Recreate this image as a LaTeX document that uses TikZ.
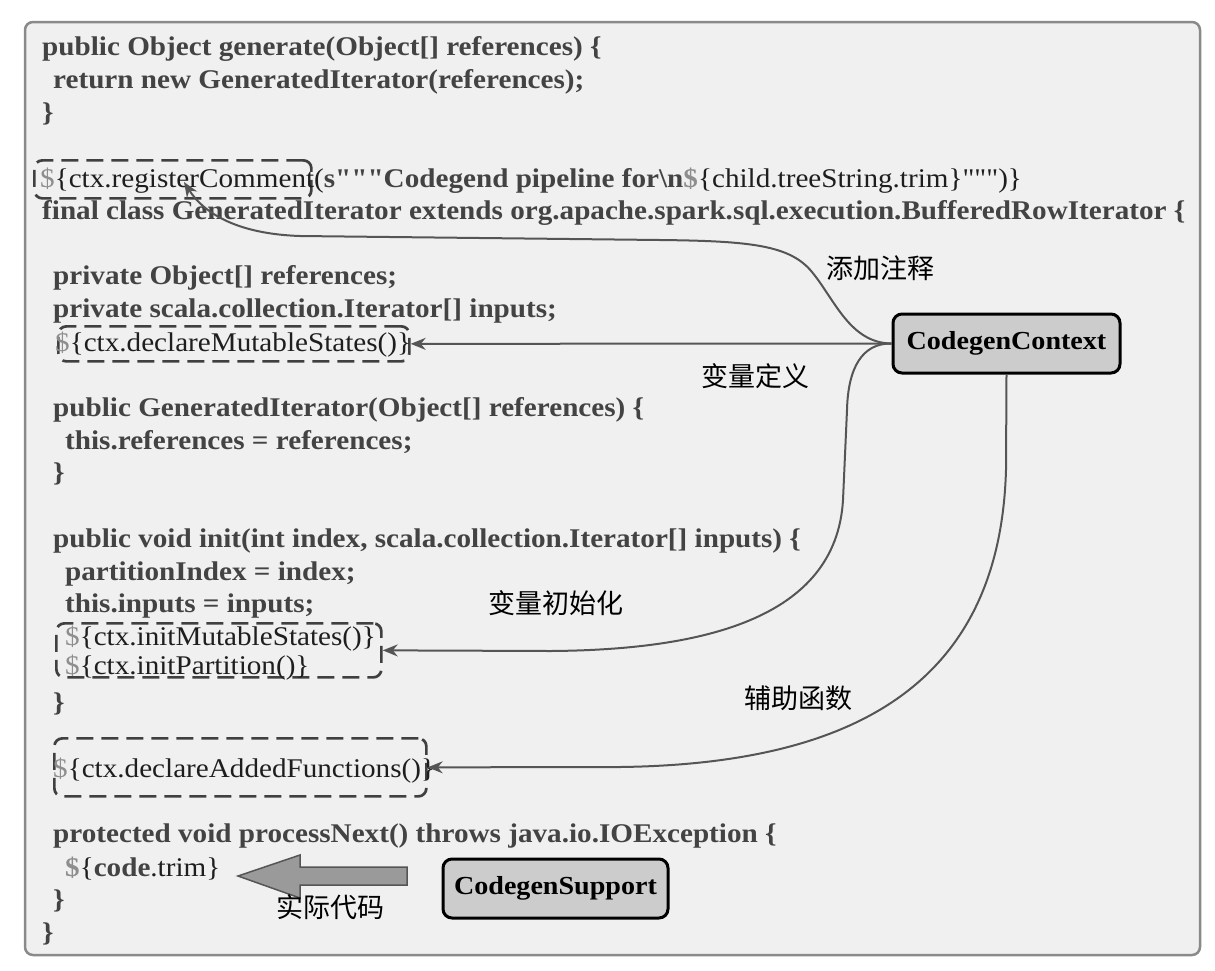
\documentclass[tikz,border=0pt]{standalone}
\usepackage{fontspec}
\setmainfont{Liberation Serif}[FakeStretch=1.08]
\newfontfamily\qfont{Liberation Serif}[FakeStretch=1.08,Ligatures=ResetAll]
\newfontfamily\cjk{Noto Sans CJK SC}
\usetikzlibrary{arrows.meta,calc}
\definecolor{bgc}{HTML}{F0F0F0}
\definecolor{framec}{HTML}{8A8A8A}
\definecolor{boldc}{HTML}{434343}
\definecolor{regc}{HTML}{1E1E1E}
\definecolor{dolc}{HTML}{8E8E8E}
\definecolor{linec}{HTML}{555555}
\definecolor{boxc}{HTML}{404040}
\definecolor{nodec}{HTML}{CCCCCC}
\definecolor{blockc}{HTML}{9A9A9A}
\newcommand{\dol}{\textcolor{dolc}{\$}}
\newcommand{\rg}[1]{{\mdseries\color{regc}#1}}
\newcommand{\qq}{{\qfont\char34}}
\tikzset{
  code/.style={anchor=base west, inner sep=0pt, text=boldc,
    font=\fontsize{27}{30}\selectfont\bfseries},
  dbox/.style={draw=boxc, line width=2.7pt, dash pattern=on 17pt off 8pt,
    rounded corners=8pt, inner sep=0pt, anchor=north west},
  conn/.style={draw=linec, line width=2pt, -{Stealth[length=15pt,width=12pt]}},
  cnode/.style={draw=black, line width=3pt, fill=nodec, rounded corners=9pt,
    inner sep=0pt, font=\fontsize{26}{30}\selectfont\bfseries, text=black},
  lab/.style={font=\cjk\fontsize{27}{30}\selectfont, text=black, inner sep=0pt}
}
\begin{document}
\begin{tikzpicture}[x=1pt,y=-1pt]
\useasboundingbox (0,0) rectangle (1215,970);
\fill[white] (0,0) rectangle (1215,970);
\draw[framec, fill=bgc, line width=2.5pt, rounded corners=8pt] (25,22) rectangle (1200,955);

% dashed boxes
\node[dbox, minimum width=277pt, minimum height=38pt] (rc) at (33,159) {};
\node[dbox, minimum width=351pt, minimum height=35pt] (dms) at (57,325) {};
\node[dbox, minimum width=325pt, minimum height=54pt] (ini) at (55,622) {};
\node[dbox, minimum width=372pt, minimum height=58pt] (daf) at (53,737) {};

% code lines
\node[code] (l1) at (42,55) {public Object generate(Object[] references) \{};
\node[code] (l2) at (53,88) {return new GeneratedIterator(references);};
\node[code] (l3) at (42,121) {\}};
\node[code] (l4) at (40,187) {\rg{\dol\{ctx.registerComment(}s\qq\qq\qq Codegend pipeline for\textbackslash n\dol\rg{\{child.treeString.trim\}\qq\qq\qq)\}}};
\node[code] (l5) at (42,219) {final class GeneratedIterator extends org.apache.spark.sql.execution.BufferedRowIterator \{};
\node[code] (l6) at (53,284) {private Object[] references;};
\node[code] (l7) at (53,317) {private scala.collection.Iterator[] inputs;};
\node[code] (l8) at (55,351) {\rg{\dol\{ctx.declareMutableStates()\}}};
\node[code] (l9) at (53,416) {public GeneratedIterator(Object[] references) \{};
\node[code] (l10) at (65,449) {this.references = references;};
\node[code] (l11) at (53,481) {\}};
\node[code] (l12) at (53,547) {public void init(int index, scala.collection.Iterator[] inputs) \{};
\node[code] (l13) at (65,580) {partitionIndex = index;};
\node[code] (l14) at (65,612) {this.inputs = inputs;};
\node[code] (l15) at (65,645) {\rg{\dol\{ctx.initMutableStates()\}}};
\node[code] (l16) at (65,674) {\rg{\dol\{ctx.initPartition()\}}};
\node[code] (l17) at (53,711) {\}};
\node[code] (l18) at (53,777) {\rg{\dol\{ctx.declareAddedFunctions()\}}};
\node[code] (l19) at (53,842) {protected void processNext() throws java.io.IOException \{};
\node[code] (l20) at (65,876) {\dol\rg{\{}code\rg{.trim\}}};
\node[code] (l21) at (53,908) {\}};
\node[code] (l22) at (42,941) {\}};

% component nodes
\node[cnode, minimum width=227pt, minimum height=59pt] (cc) at (1006.5,343.5) {CodegenContext};
\node[cnode, minimum width=225pt, minimum height=59pt] (cs) at (555.5,888.5) {CodegenSupport};

% connectors
\coordinate (rctip) at (184,182);
\draw[conn] (cc.west) .. controls (850,343) and (835,300) .. (812,272)
  .. controls (790,245) and (750,241) .. (660,240) -- (300,236)
  .. controls (240,234) and (205,215) .. (rctip);
\draw[conn] (cc.west) -- (dms.east);
\draw[conn] (cc.west) .. controls (862,343) and (848,368) .. (847,410)
  -- (843,500) .. controls (836,620) and (700,650) .. (550,651) -- (ini.east);
\draw[conn] (cc.south) -- (1006,470) .. controls (1000,680) and (860,764) .. (620,767) -- (daf.east);

% block arrow
\coordinate (bs) at (407,876);
\coordinate (bt) at (238,876);
\draw[draw=linec, fill=blockc, line width=1.5pt, line join=miter]
  ($(bs)+(0,-9)$) -- (300,867) -- (300,855) -- (bt) -- (300,898) -- (300,885) -- ($(bs)+(0,9)$) -- cycle;

% labels
\node[lab] (t1) at (880,268) {添加注释};
\node[lab] (t2) at (755,376) {变量定义};
\node[lab] (t3) at (556,603) {变量初始化};
\node[lab] (t4) at (798,698) {辅助函数};
\node[lab] (t5) at (330,907) {实际代码};
\end{tikzpicture}
\end{document}
